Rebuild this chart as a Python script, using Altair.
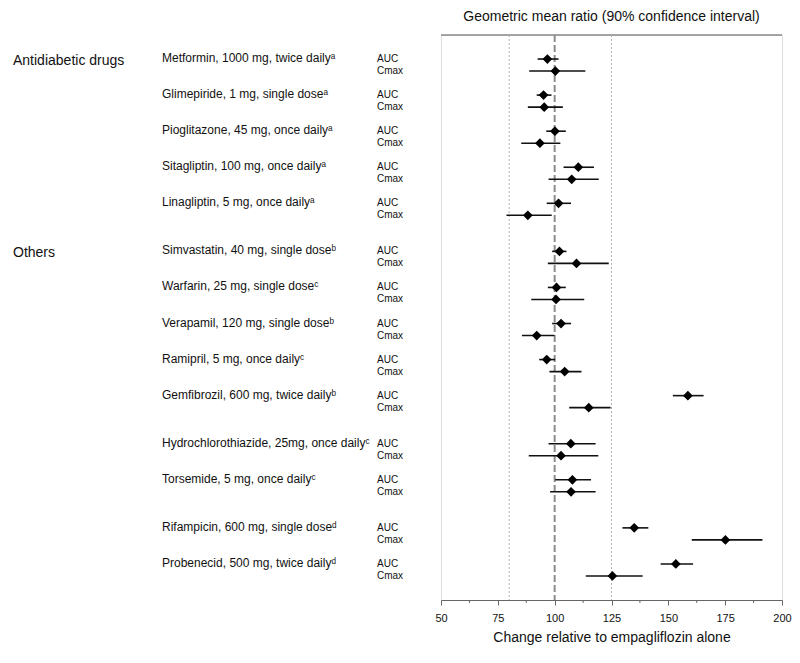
import altair as alt
import pandas as pd

# ---- data ----
drugs = [
    "Metformin, 1000 mg, twice dailyᵃ",
    "Glimepiride, 1 mg, single doseᵃ",
    "Pioglitazone, 45 mg, once dailyᵃ",
    "Sitagliptin, 100 mg, once dailyᵃ",
    "Linagliptin, 5 mg, once dailyᵃ",
    "Simvastatin, 40 mg, single doseᵇ",
    "Warfarin, 25 mg, single doseᶜ",
    "Verapamil, 120 mg, single doseᵇ",
    "Ramipril, 5 mg, once dailyᶜ",
    "Gemfibrozil, 600 mg, twice dailyᵇ",
    "Hydrochlorothiazide, 25mg, once dailyᶜ",
    "Torsemide, 5 mg, once dailyᶜ",
    "Rifampicin, 600 mg, single doseᵈ",
    "Probenecid, 500 mg, twice dailyᵈ",
]
block = [0, 0, 0, 0, 0, 1, 1, 1, 1, 1, 2, 2, 3, 3]
group_names = ["Antidiabetic drugs", "Others"]
group_first = [0, 5]

auc_est = [96.8, 95.1, 100.1, 110.4, 101.7, 102.1, 100.8, 102.8, 96.5, 158.6, 107.1, 107.8, 135.0, 153.3]
auc_lo = [92.5, 92.1, 96.3, 103.9, 96.5, 98.9, 97.0, 98.9, 93.2, 152.0, 97.3, 100.2, 129.8, 146.6]
auc_hi = [101.7, 98.6, 104.9, 117.3, 107.2, 105.2, 104.9, 107.2, 100.2, 165.5, 118.0, 116.0, 141.2, 160.9]

cmax_est = [100.3, 95.4, 93.5, 107.5, 88.2, 109.6, 100.6, 92.1, 104.4, 115.0, 102.8, 107.2, 175.1, 125.4]
cmax_lo = [88.8, 88.2, 85.3, 97.3, 78.8, 97.0, 89.7, 85.6, 97.7, 106.4, 88.6, 98.0, 160.3, 113.7]
cmax_hi = [113.5, 103.6, 102.5, 119.4, 98.7, 123.8, 113.0, 99.9, 111.8, 124.6, 119.2, 118.0, 191.4, 138.7]

major_ticks = [50, 75, 100, 125, 150, 175, 200]
minor_ticks = [62.5, 87.5, 112.5, 137.5, 162.5, 187.5]
ref_lines = [80, 125]
unity = 100

# ---- build tables ----
rows = []
for i, d in enumerate(drugs):
    base = 3 * i + block[i]
    rows.append(dict(drug=d, param="AUC", est=auc_est[i], lo=auc_lo[i], hi=auc_hi[i], slot=base))
    rows.append(dict(drug=d, param="Cmax", est=cmax_est[i], lo=cmax_lo[i], hi=cmax_hi[i], slot=base + 1))
df = pd.DataFrame(rows)
drug_df = df[df.param == "AUC"].copy()
grp_df = pd.DataFrame(dict(name=group_names, slot=[3 * g + block[g] for g in group_first]))

W, H = 341, 565
FONT = "Liberation Sans"
yscale = alt.Scale(domain=[-2, 45], reverse=True, nice=False, zero=False)
xscale = alt.Scale(domain=[50, 200], nice=False, zero=False)

xaxis = alt.Axis(
    values=major_ticks,
    title="Change relative to empagliflozin alone",
    grid=False,
    tickSize=5,
    domainColor="#666666",
    tickColor="#666666",
    labelFont=FONT,
    labelFontSize=11,
    labelColor="#111111",
    labelPadding=7,
    labelFlush=False,
    titleFont=FONT,
    titleFontSize=14,
    titleFontWeight="normal",
    titleColor="#111111",
    titlePadding=7,
)


def X(field):
    return alt.X(field, scale=xscale, axis=xaxis)


def Y():
    return alt.Y("slot:Q", scale=yscale, axis=None)


# frame line under the title (spans the plot width)
top_line = alt.Chart(pd.DataFrame({"k": [0]})).mark_rule(
    color="#8a8a8a", strokeWidth=1.5
).encode(x=alt.value(0), x2=alt.value(W), y=alt.value(0))

dotted = alt.Chart(pd.DataFrame({"v": ref_lines})).mark_rule(
    color="#b0b0b0", strokeWidth=1, strokeDash=[2, 2]
).encode(x=X("v:Q"))

dashed = alt.Chart(pd.DataFrame({"v": [unity]})).mark_rule(
    color="#8c8c8c", strokeWidth=2, strokeDash=[7, 3]
).encode(x=X("v:Q"))

minor = alt.Chart(pd.DataFrame({"v": minor_ticks})).mark_rule(
    color="#666666", strokeWidth=1
).encode(x=X("v:Q"), y=alt.value(H), y2=alt.value(H + 3))

bars = alt.Chart(df).mark_rule(color="#111111", strokeWidth=1.6).encode(
    x=X("lo:Q"), x2="hi:Q", y=Y()
)

points = alt.Chart(df).mark_point(
    shape="diamond", filled=True, size=95, color="#000000", opacity=1
).encode(x=X("est:Q"), y=Y())

grp_text = alt.Chart(grp_df).mark_text(
    align="left", baseline="middle", font=FONT, fontSize=14, color="#111111", dy=2
).encode(x=alt.value(-428), y=Y(), text="name:N")

drug_text = alt.Chart(drug_df).mark_text(
    align="left", baseline="middle", font=FONT, fontSize=12, color="#111111", dy=-1
).encode(x=alt.value(-279), y=Y(), text="drug:N")

param_text = alt.Chart(df).mark_text(
    align="left", baseline="middle", font=FONT, fontSize=10, color="#111111"
).encode(x=alt.value(-64), y=Y(), text="param:N")

chart = alt.layer(
    top_line, dotted, dashed, minor, bars, points, grp_text, drug_text, param_text
).properties(
    width=W,
    height=H,
    title=alt.TitleParams(
        text="Geometric mean ratio (90% confidence interval)",
        font=FONT,
        fontSize=14,
        fontWeight="normal",
        color="#111111",
        anchor="middle",
        frame="group",
        offset=10,
    ),
    padding={"left": 5, "top": 2, "right": 0, "bottom": 4},
).configure_view(
    stroke="transparent", strokeWidth=0
).configure_axisY(
    domain=False, grid=False, ticks=False, labels=False
).configure_axisX(
    grid=False
).configure(background="white")

chart.save("out.html", embed_options={"renderer": "svg", "actions": False})
